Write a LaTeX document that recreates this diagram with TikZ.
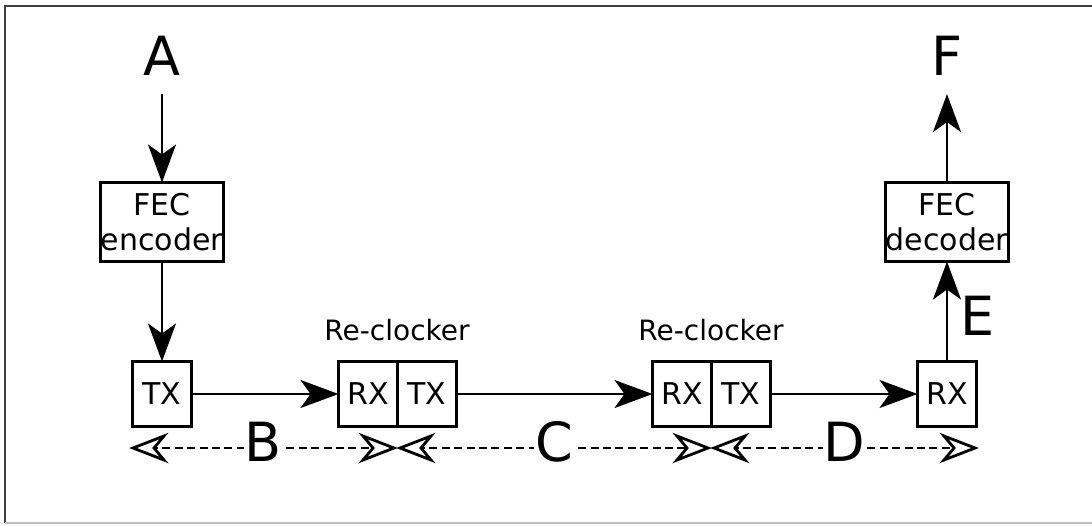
\documentclass[tikz,border=0pt]{standalone}
\usepackage{fontspec}
\setmainfont{DejaVu Sans}
\usepackage{tikz}
\usetikzlibrary{arrows.meta}
\usetikzlibrary{positioning}
\tikzset{
  blk/.style={draw=black, line width=1.5pt, inner sep=0pt, outer sep=0pt,
    minimum width=29.5pt, minimum height=32.5pt, font=\fontsize{15}{17.5}\selectfont},
  fecblk/.style={blk, minimum width=59pt, minimum height=39.5pt, align=center},
  big/.style={font=\fontsize{27}{30}\selectfont, inner sep=9pt},
  sig/.style={line width=1.2pt, -{Stealth[length=19pt, width=14pt, inset=5pt]}},
  span/.style={line width=1.1pt, dash pattern=on 4pt off 2.2pt, shorten <=10pt, shorten >=10pt},
  tipline/.style={line width=1.4pt, fill=white, line join=miter}
}
% open tip of a span: #1 = point, #2 = +1 (pointing right) or -1 (pointing left)
\newcommand{\spantip}[2]{
  \draw[tipline] ([xshift=#2*-1.5pt]#1) -- ++(#2*-31,-12) -- ++(#2*10,12)
    -- ++(#2*-10,12) -- cycle;
}

\begin{document}
\begin{tikzpicture}[x=0.5pt,y=-0.5pt]
\useasboundingbox (0,0) rectangle (1092,525);
% frame
\draw[black!75, line width=1.2pt] (5,523) -- (5,6) -- (1092,6);
\draw[black!25, line width=0.8pt] (5,523) -- (1092,523);

% sender side
\node[big] (A) at (162,56) {A};
\node[fecblk] (enc) at (162,222) {FEC\\encoder};
\node[blk] (txA) at (162,394) {TX};

% re-clockers
\node[blk] (rx1) at (368,394) {RX};
\node[blk, anchor=west] (tx1) at (rx1.east) {TX};
\node[font=\fontsize{14}{17}\selectfont] (rc1) at (397,330) {Re-clocker};
\node[blk] (rx2) at (682,394) {RX};
\node[blk, anchor=west] (tx2) at (rx2.east) {TX};
\node[font=\fontsize{14}{17}\selectfont] (rc2) at (711,330) {Re-clocker};

% receiver side
\node[blk] (rxF) at (947,394) {RX};
\node[fecblk] (dec) at (947,222) {FEC\\decoder};
\node[big] (F) at (947,56) {F};
\node[big] (E) at (978,316) {E};

\draw[sig] (A) -- (enc);
\draw[sig] (enc) -- (txA);
\draw[sig] (txA) -- (rx1);
\draw[sig] (tx1) -- (rx2);
\draw[sig] (tx2) -- (rxF);
\draw[sig] (rxF) -- (dec);
\draw[sig] (dec) -- (F);

% spans
\coordinate (s0) at (130,448);
\coordinate (s1) at (397,448);
\coordinate (s2) at (711,448);
\coordinate (s3) at (978,448);
\draw[span] (s0) -- node[big, fill=white, inner sep=0.5pt, yshift=3pt] (B) {B} (s1);
\draw[span] (s1) -- node[big, fill=white, inner sep=0.5pt, yshift=3pt] (C) {C} (s2);
\draw[span] (s2) -- node[big, fill=white, inner sep=0.5pt, yshift=3pt] (D) {D} (s3);
\foreach \p in {s1,s2,s3} {\spantip{\p}{1}}
\foreach \p in {s0,s1,s2} {\spantip{\p}{-1}}
\end{tikzpicture}
\end{document}
